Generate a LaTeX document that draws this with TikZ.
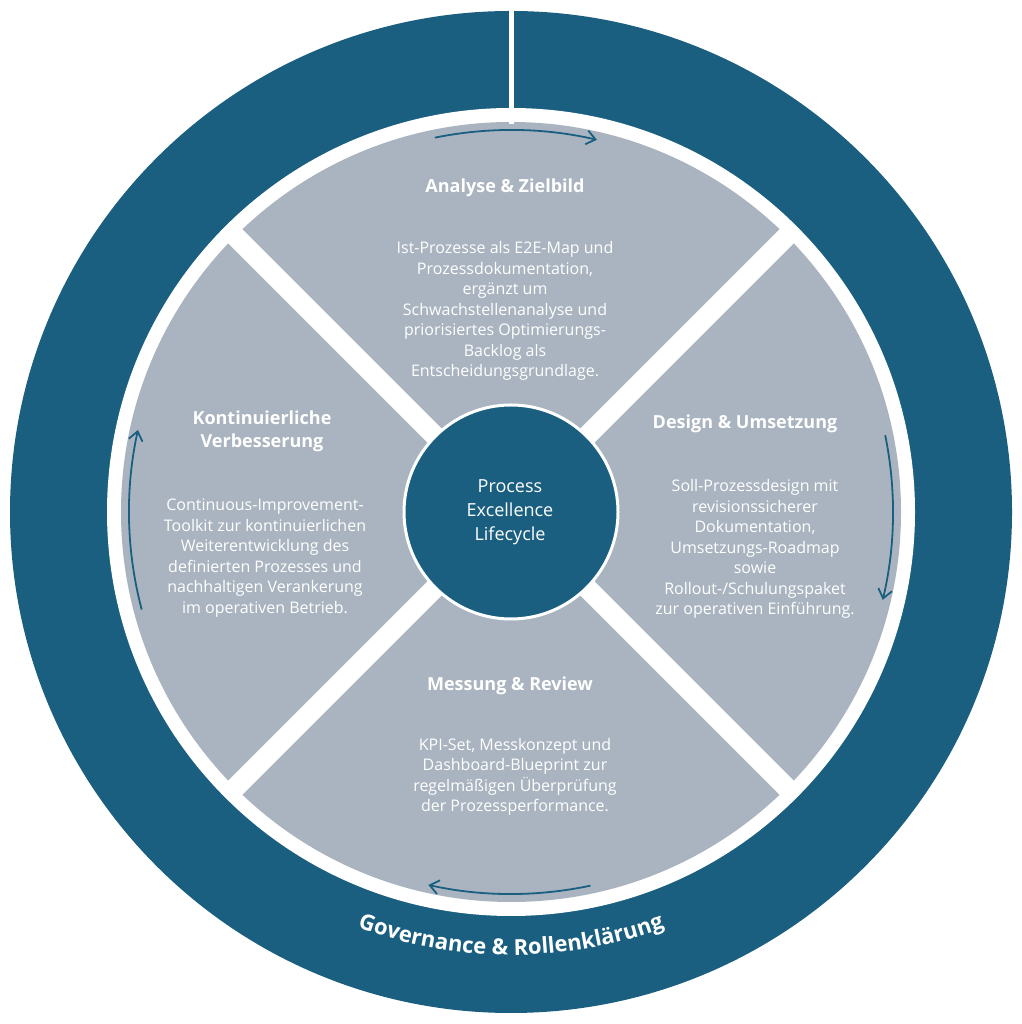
\documentclass[tikz,border=0pt]{standalone}
\usepackage{fontspec}
\setmainfont{Open Sans}
\usepackage{tikz}
\usetikzlibrary{arrows.meta}
\usetikzlibrary{decorations.text}
\definecolor{ringblue}{HTML}{1A5F80}
\definecolor{sectorgray}{HTML}{A9B4C0}
\newcommand{\phasetitle}[4]{\node[text=white,font=\fontsize{18}{23}\selectfont\bfseries,align=center] (#1) at ( #2 , #3 ) {#4};}
\newcommand{\phasebody}[4]{\node[text=white,font=\fontsize{16}{20.5}\selectfont,align=center] (#1) at ( #2 , #3 ) {#4};}
\newcommand{\turnarrow}[2]{\draw[ringblue,line width=1.8pt,-{Straight Barb[length=9pt,width=14pt]}] ([shift={(#1:382)}]511,512) arc ( #1 : #2 :382);}

\begin{document}
\begin{tikzpicture}[x=1pt,y=1pt]
        \useasboundingbox (0,0) rectangle (1021,1024);
        % ring
        \fill[ringblue] (511,512) circle (501);
        \fill[white] (511,512) circle (404);
        \fill[sectorgray] (511,512) circle (390);
        \draw[white,line width=5pt] (511,1020) -- (511,900);
        % cross
        \draw[white,line width=20pt] ([shift={(45:392)}]511,512) -- ([shift={(225:392)}]511,512);
        \draw[white,line width=20pt] ([shift={(135:392)}]511,512) -- ([shift={(315:392)}]511,512);
        % hub
        \fill[ringblue,draw=white,line width=3pt] (511,512) circle (107);
        \node[text=white,font=\fontsize{18}{24}\selectfont,align=center] (hub) at (510,512) {Process\\Excellence\\Lifecycle};
        % arrows
        \turnarrow{101.5}{77}
        \turnarrow{11.6}{-13.3}
        \turnarrow{282}{257.5}
        \turnarrow{194.8}{167.6}
        % phase 1
        \phasetitle{analyse}{505}{836}{Analyse \& Zielbild}
        \phasebody{analysetext}{505}{713}{Ist-Prozesse als E2E-Map und\\Prozessdokumentation,\\ergänzt um\\Schwachstellenanalyse und\\priorisiertes Optimierungs-\\Backlog als\\Entscheidungsgrundlage.}
        % phase 2
        \phasetitle{design}{745}{600}{Design \& Umsetzung}
        \phasebody{designtext}{755}{475}{Soll-Prozessdesign mit\\revisionssicherer\\Dokumentation,\\Umsetzungs-Roadmap\\sowie\\Rollout-/Schulungspaket\\zur operativen Einführung.}
        % phase 3
        \phasetitle{messung}{510}{338}{Messung \& Review}
        \phasebody{messungtext}{515}{247}{KPI-Set, Messkonzept und\\Dashboard-Blueprint zur\\regelmäßigen Überprüfung\\der Prozessperformance.}
        % phase 4
        \phasetitle{kvp}{262}{593}{Kontinuierliche\\Verbesserung}
        \phasebody{kvptext}{265}{466}{Continuous-Improvement-\\Toolkit zur kontinuierlichen\\Weiterentwicklung des\\definierten Prozesses und\\nachhaltigen Verankerung\\im operativen Betrieb.}
        % governance
        \path[decorate,decoration={text along path,text align=center,
          text color=white,text={|\fontsize{22}{26}\selectfont\bfseries|Governance {\&} Rollenkl{ä}rung}}]
          ([shift={(230:443)}]511,512) arc (230:310:443);
\end{tikzpicture}
\end{document}
